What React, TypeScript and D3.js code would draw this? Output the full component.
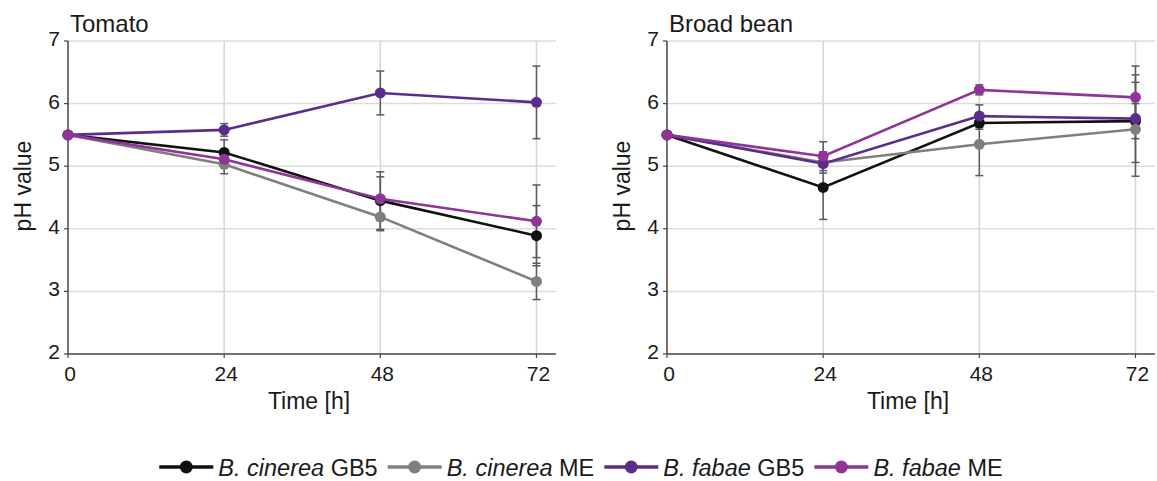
import React, { useEffect, useRef } from 'react';
import * as d3 from 'd3';

const times = [0, 24, 48, 72];
const yTicks = [2, 3, 4, 5, 6, 7];
const seriesItalic = ['B. cinerea', 'B. cinerea', 'B. fabae', 'B. fabae'];
const seriesSuffix = [' GB5', ' ME', ' GB5', ' ME'];
const seriesColors = ['#111111', '#7f7f7f', '#5b2c8c', '#8e3597'];

// Tomato
const tomatoMeans = [
  [5.5, 5.22, 4.45, 3.89],
  [5.5, 5.03, 4.19, 3.16],
  [5.5, 5.58, 6.17, 6.02],
  [5.5, 5.11, 4.48, 4.12],
];
const tomatoErr = [
  [0, 0.2, 0.46, 0.48],
  [0, 0.15, 0.22, 0.29],
  [0, 0.1, 0.35, 0.58],
  [0, 0.05, 0.35, 0.58],
];

// Broad bean
const beanMeans = [
  [5.5, 4.66, 5.69, 5.72],
  [5.5, 5.06, 5.35, 5.59],
  [5.5, 5.04, 5.8, 5.76],
  [5.5, 5.16, 6.22, 6.1],
];
const beanErr = [
  [0, 0.51, 0.1, 0.28],
  [0, 0.17, 0.5, 0.75],
  [0, 0.05, 0.18, 0.7],
  [0, 0.23, 0.08, 0.5],
];

const FONT = '"Liberation Sans", Arial, sans-serif';

const App = () => {
  const ref = useRef<SVGSVGElement | null>(null);

  useEffect(() => {
    if (!ref.current) return;
    const svg = d3.select(ref.current);
    svg.selectAll('*').remove();

    const drawPanel = (left: number, title: string, means: number[][], errs: number[][]) => {
      const x = d3.scaleLinear().domain([0, 75]).range([left, left + 488]);
      const y = d3.scaleLinear().domain([2, 7]).range([354, 41]);
      const g = svg.append('g');

      // grid
      g.selectAll('.hgrid')
        .data(yTicks.slice(1))
        .enter()
        .append('line')
        .attr('x1', x(0))
        .attr('x2', x(75))
        .attr('y1', d => y(d))
        .attr('y2', d => y(d))
        .attr('stroke', '#dcdcdc')
        .attr('stroke-width', 1.5);
      g.selectAll('.vgrid')
        .data(times.slice(1))
        .enter()
        .append('line')
        .attr('x1', d => x(d))
        .attr('x2', d => x(d))
        .attr('y1', y(7))
        .attr('y2', y(2))
        .attr('stroke', '#d6d6d6')
        .attr('stroke-width', 1.5);

      // axes
      g.append('line')
        .attr('x1', x(0)).attr('x2', x(0))
        .attr('y1', y(7)).attr('y2', y(2))
        .attr('stroke', '#444').attr('stroke-width', 1.5);
      g.append('line')
        .attr('x1', x(0)).attr('x2', x(75))
        .attr('y1', y(2)).attr('y2', y(2))
        .attr('stroke', '#444').attr('stroke-width', 1.5);

      // ticks
      g.selectAll('.yt')
        .data(yTicks)
        .enter()
        .append('line')
        .attr('x1', x(0) - 4).attr('x2', x(0))
        .attr('y1', d => y(d)).attr('y2', d => y(d))
        .attr('stroke', '#444').attr('stroke-width', 1.2);
      g.selectAll('.xt')
        .data(times)
        .enter()
        .append('line')
        .attr('x1', d => x(d)).attr('x2', d => x(d))
        .attr('y1', y(2)).attr('y2', y(2) + 4)
        .attr('stroke', '#444').attr('stroke-width', 1.2);

      g.selectAll('.ylab')
        .data(yTicks)
        .enter()
        .append('text')
        .attr('x', x(0) - 8)
        .attr('y', d => y(d) + 5)
        .attr('text-anchor', 'end')
        .style('font-family', FONT)
        .style('font-size', '21px')
        .attr('fill', '#1a1a1a')
        .text(d => d);
      g.selectAll('.xlab')
        .data(times)
        .enter()
        .append('text')
        .attr('x', d => x(d) + 2)
        .attr('y', y(2) + 27)
        .attr('text-anchor', 'middle')
        .style('font-family', FONT)
        .style('font-size', '21px')
        .attr('fill', '#1a1a1a')
        .text(d => d);

      // titles
      g.append('text')
        .attr('x', x(0) + 2)
        .attr('y', 32)
        .style('font-family', FONT)
        .style('font-size', '24px')
        .attr('fill', '#1a1a1a')
        .text(title);
      g.append('text')
        .attr('transform', `translate(${x(0) - 37},186) rotate(-90)`)
        .attr('text-anchor', 'middle')
        .style('font-family', FONT)
        .style('font-size', '23px')
        .attr('fill', '#1a1a1a')
        .text('pH value');
      g.append('text')
        .attr('x', x(0) + 241)
        .attr('y', 409)
        .attr('text-anchor', 'middle')
        .style('font-family', FONT)
        .style('font-size', '23px')
        .attr('fill', '#1a1a1a')
        .text('Time [h]');

      const line = d3.line<number>()
        .x((d, i) => x(times[i]))
        .y(d => y(d));

      means.forEach((vals, s) => {
        g.append('path')
          .attr('d', line(vals))
          .attr('fill', 'none')
          .attr('stroke', seriesColors[s])
          .attr('stroke-width', 2.6);
      });

      // error bars
      means.forEach((vals, s) => {
        vals.forEach((v, i) => {
          const e = errs[s][i];
          if (!e) return;
          const cx = x(times[i]);
          g.append('line')
            .attr('x1', cx).attr('x2', cx)
            .attr('y1', y(v - e)).attr('y2', y(v + e))
            .attr('stroke', '#5a5a5a').attr('stroke-width', 1.5);
          [v - e, v + e].forEach(b => {
            g.append('line')
              .attr('x1', cx - 4).attr('x2', cx + 4)
              .attr('y1', y(b)).attr('y2', y(b))
              .attr('stroke', '#5a5a5a').attr('stroke-width', 1.5);
          });
        });
      });

      means.forEach((vals, s) => {
        g.selectAll(`.pt${s}`)
          .data(vals)
          .enter()
          .append('circle')
          .attr('cx', (d, i) => x(times[i]))
          .attr('cy', d => y(d))
          .attr('r', 5.5)
          .attr('fill', seriesColors[s]);
      });
    };

    drawPanel(68, 'Tomato', tomatoMeans, tomatoErr);
    drawPanel(667, 'Broad bean', beanMeans, beanErr);

    // legend, laid out then centred
    const leg = svg.append('g');
    let cx = 0;
    const ly = 467;
    seriesItalic.forEach((it, s) => {
      leg.append('line')
        .attr('x1', cx).attr('x2', cx + 54)
        .attr('y1', ly).attr('y2', ly)
        .attr('stroke', seriesColors[s]).attr('stroke-width', 3.5);
      leg.append('circle')
        .attr('cx', cx + 27).attr('cy', ly).attr('r', 6.5)
        .attr('fill', seriesColors[s]);
      const t = leg.append('text')
        .attr('x', cx + 59)
        .attr('y', ly + 8.5)
        .style('font-family', FONT)
        .style('font-size', '23.5px')
        .attr('fill', '#1a1a1a');
      t.append('tspan').style('font-style', 'italic').text(it);
      t.append('tspan').text(seriesSuffix[s]);
      const w = (t.node() as SVGTextElement).getComputedTextLength();
      cx += 59 + w + (s < 3 ? 10 : 0);
    });
    leg.attr('transform', `translate(${581 - cx / 2},0)`);
  }, []);

  return (
    <svg
      ref={ref}
      width={1157}
      height={481}
      style={{ position: 'absolute', left: 0, top: 0, background: '#fff' }}
    />
  );
};

export default App;
